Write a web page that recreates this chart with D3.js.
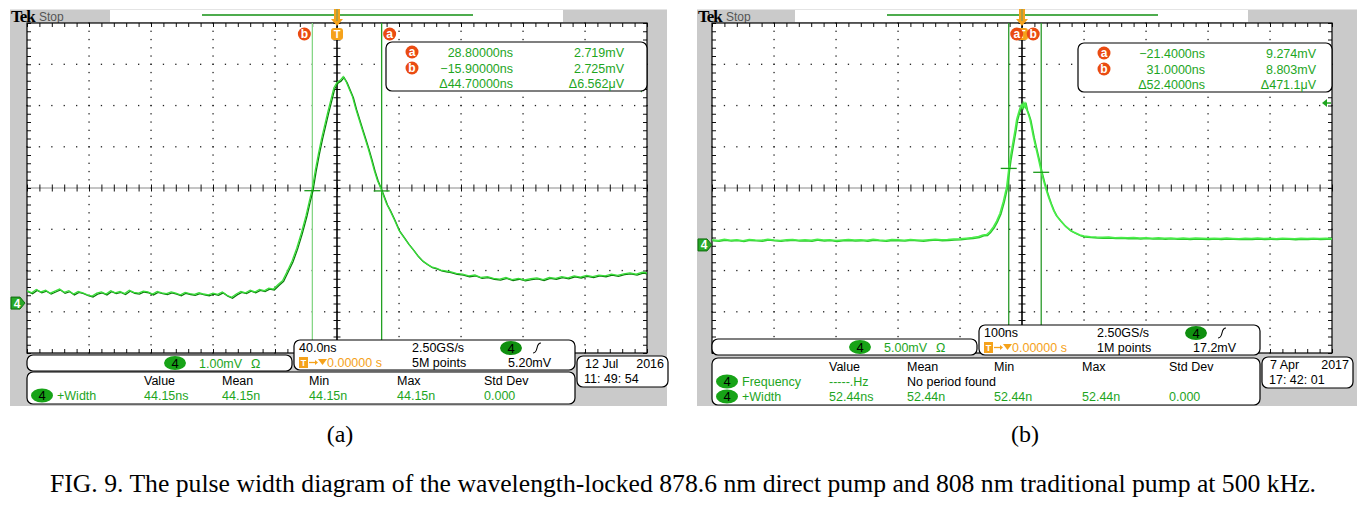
<!DOCTYPE html>
<html><head><meta charset="utf-8">
<script src="https://cdn.jsdelivr.net/npm/d3@7"></script>
<style>
body{margin:0;background:#fff;}
svg{display:block;font-family:"Liberation Sans",Arial,sans-serif;}
</style>
</head><body>
<svg id="c" width="1370" height="511"></svg>
<script>
// ---------------- DATA ----------------
// Panel (a): time in ns, voltage in mV (40 ns/div, 1 mV/div)
const baseA = [[-200,0.30],[-197,0.25],[-194,0.33],[-191,0.27],[-188,0.31],[-185,0.24],[-182,0.29],[-179,0.34],[-176,0.26],[-173,0.30],[-170,0.22],[-167,0.28],[-164,0.25],[-161,0.20],[-158,0.17],[-155,0.24],[-152,0.27],[-149,0.22],[-146,0.30],[-143,0.25],[-140,0.28],[-137,0.23],[-134,0.31],[-131,0.26],[-128,0.24],[-125,0.29],[-122,0.27],[-119,0.22],[-116,0.28],[-113,0.25],[-110,0.23],[-107,0.27],[-104,0.24],[-101,0.20],[-98,0.26],[-95,0.23],[-92,0.21],[-89,0.25],[-86,0.22],[-83,0.20],[-80,0.24],[-77,0.21],[-74,0.27],[-71,0.19],[-68,0.14],[-65,0.22],[-62,0.28],[-59,0.25],[-56,0.31],[-53,0.27],[-50,0.33],[-47,0.30],[-44,0.36],[-41,0.34]];
const pulseA = [[-38,0.45],[-35,0.55],[-32,0.78],[-29,1.02],[-26,1.33],[-23,1.70],[-20,2.12],[-18,2.45],[-16,2.76],[-14,3.22],[-12,3.62],[-10,3.98],[-8,4.30],[-6,4.62],[-4,4.92],[-2,5.22],[0,5.35],[2,5.40],[4,5.49],[6,5.36],[8,5.18],[10,5.00],[12,4.72],[14,4.48],[16,4.24],[18,4.00],[20,3.76],[22,3.50],[24,3.22],[26,2.98],[28,2.80],[30,2.60],[32,2.40],[34,2.26],[37,2.02],[40,1.76],[43,1.60],[46,1.44],[49,1.30],[52,1.15],[55,1.03],[58,0.95],[61,0.88],[64,0.85],[67,0.80],[70,0.78],[73,0.76]];
const tailA = [[77,0.72],[81,0.70],[85,0.66],[89,0.68],[93,0.62],[97,0.64],[101,0.60],[105,0.58],[109,0.62],[113,0.57],[117,0.60],[121,0.56],[125,0.59],[129,0.61],[133,0.57],[137,0.62],[141,0.60],[145,0.64],[149,0.61],[153,0.66],[157,0.63],[161,0.67],[165,0.64],[169,0.68],[173,0.66],[177,0.70],[181,0.67],[185,0.71],[189,0.73],[193,0.70],[197,0.75],[200,0.73]];

// Panel (b): time in ns, voltage in mV (100 ns/div, 5 mV/div)
const baseB = [[-500,0.62],[-490,0.55],[-480,0.68],[-470,0.58],[-460,0.64],[-450,0.52],[-440,0.66],[-430,0.60],[-420,0.57],[-410,0.70],[-400,0.61],[-390,0.54],[-380,0.63],[-370,0.67],[-360,0.58],[-350,0.62],[-340,0.56],[-330,0.69],[-320,0.60],[-310,0.64],[-300,0.53],[-290,0.61],[-280,0.66],[-270,0.59],[-260,0.63],[-250,0.57],[-240,0.68],[-230,0.60],[-220,0.55],[-210,0.65],[-200,0.62],[-190,0.58],[-180,0.67],[-170,0.61],[-160,0.56],[-150,0.64],[-140,0.70],[-130,0.62],[-120,0.66],[-110,0.72],[-100,0.75],[-90,0.82],[-80,0.90],[-70,1.02]];
const pulseB = [[-63,1.21],[-57,1.25],[-52,1.60],[-46,2.22],[-41,2.90],[-35.5,3.84],[-30,5.30],[-24.7,7.07],[-21.4,9.20],[-19.4,10.3],[-17,11.4],[-14,12.7],[-11,14.0],[-8.6,15.2],[-6,15.9],[-3.2,16.6],[-1,17.0],[0.5,16.7],[2.1,17.2],[4,16.8],[5.5,17.1],[7.5,16.4],[10,15.9],[12.9,15.2],[15.5,14.2],[18.3,13.1],[22,11.9],[26.3,10.5],[31,8.9],[34.4,7.9],[38,6.9],[42.5,5.85],[46,5.1],[50.5,4.24],[55,3.6],[61,3.03],[69,2.35],[77.4,1.82],[85,1.50],[93.5,1.21],[100,1.08]];
const tailB = [[110,1.00],[120,0.95],[130,0.92],[140,0.96],[150,0.88],[160,0.91],[170,0.86],[180,0.90],[190,0.84],[200,0.88],[210,0.82],[220,0.86],[230,0.80],[240,0.85],[250,0.79],[260,0.83],[270,0.78],[280,0.84],[290,0.80],[300,0.77],[310,0.82],[320,0.78],[330,0.83],[340,0.79],[350,0.76],[360,0.81],[370,0.78],[380,0.83],[390,0.77],[400,0.80],[410,0.76],[420,0.82],[430,0.79],[440,0.75],[450,0.80],[460,0.78],[470,0.82],[480,0.77],[490,0.80],[500,0.78]];

// cursors: [label, time ns, voltage mV]
const cursorsA = [["a",28.8,2.719],["b",-15.9,2.725]];
const cursorsB = [["a",-21.4,9.274],["b",31.0,8.803]];
const readoutA = [["a","28.80000ns","2.719mV"],["b","\u221215.90000ns","2.725mV"],["","\u039444.70000ns","\u03946.562\u03BCV"]];
const readoutB = [["a","\u221221.4000ns","9.274mV"],["b","31.0000ns","8.803mV"],["","\u039452.4000ns","\u0394471.1\u03BCV"]];

const measHeaders = ["Value","Mean","Min","Max","Std Dev"];
const measA = [["+Width",["44.15ns","44.15n","44.15n","44.15n","0.000"]]];
const measB = [["Frequency",["-----.Hz","No period found","","",""]],["+Width",["52.44ns","52.44n","52.44n","52.44n","0.000"]]];

const scaleTextA = ["1.00mV"], scaleTextB = ["5.00mV"];
const timebaseA = ["40.0ns","2.50GS/s","5M points","5.20mV"];
const timebaseB = ["100ns","2.50GS/s","1M points","17.2mV"];
const dateA = ["12 Jul","2016","11: 49: 54"];
const dateB = ["7 Apr","2017","17: 42: 01"];
const trigA = 5.20, trigB = 17.2;
const subLabels = ["(a)","(b)"];
const caption = "FIG. 9. The pulse width diagram of the wavelength-locked 878.6 nm direct pump and 808 nm traditional pump at 500 kHz.";

// ---------------- DRAW ----------------
const svg = d3.select("#c");
const SERIF = "'Liberation Serif','Times New Roman',serif";
const GREEN_TXT = "#1ea51e", ORANGE = "#f5a21b", RED = "#ea4b12";

const panels = [
  {ox:0, px0:10, px1:667, tDiv:40, vDiv:1, vCenter:2.79, trace:[...baseA,...pulseA,...tailA], cursors:cursorsA, readout:readoutA,
   curColors:{a:"#22a022", b:"#86d686"}, meas:measA, measTop:372, measBot:404, chanY:355, tbY:340, dateY:356,
   scale:scaleTextA[0], tb:timebaseA, date:dateA, trig:trigA, lineDark:"#0b7d0b", lineLight:"#3add3a", lw:1.3},
  {ox:685, px0:697, px1:1357, tDiv:100, vDiv:5, vCenter:6.9, trace:[...baseB,...pulseB,...tailB], cursors:cursorsB, readout:readoutB,
   curColors:{a:"#2a9a2a", b:"#2a9a2a"}, meas:measB, measTop:358, measBot:405, chanY:339, tbY:325, dateY:357,
   scale:scaleTextB[0], tb:timebaseB, date:dateB, trig:trigB, lineDark:"#2cc82c", lineLight:"#4aee4a", lw:1.5}
];

function circleLabel(g, cx, cy, ch){
  g.append("circle").attr("cx",cx).attr("cy",cy).attr("r",6.5).attr("fill",RED);
  g.append("text").attr("x",cx).attr("y",cy+4).attr("text-anchor","middle")
    .attr("font-size",12).attr("font-weight","bold").attr("fill","#fff").text(ch);
}
function pill(g, cx, cy, fill){
  g.append("ellipse").attr("cx",cx).attr("cy",cy).attr("rx",11).attr("ry",7).attr("fill",fill||"#17a317");
  g.append("text").attr("x",cx).attr("y",cy+4.5).attr("text-anchor","middle").attr("font-size",13).attr("fill","#000").text("4");
}
function box(g,x0,y0,x1,y1){
  g.append("rect").attr("x",x0).attr("y",y0).attr("width",x1-x0).attr("height",y1-y0)
    .attr("rx",6).attr("fill","#fff").attr("stroke","#000").attr("stroke-width",1.2);
}

panels.forEach((P,pi)=>{
  const g = svg.append("g");
  const ox = P.ox;
  const gx0 = 27+ox, gx1 = 647+ox, gy0 = 23, gy1 = 353;
  const x = d3.scaleLinear().domain([-5*P.tDiv, 5*P.tDiv]).range([gx0, gx1]);
  const y = d3.scaleLinear().domain([P.vCenter-4*P.vDiv, P.vCenter+4*P.vDiv]).range([gy1, gy0]);

  // background frame
  g.append("rect").attr("x",P.px0).attr("y",9).attr("width",P.px1-P.px0).attr("height",397).attr("fill","#cacaca");
  g.append("rect").attr("x",P.px0).attr("y",9).attr("width",P.px1-P.px0).attr("height",1).attr("fill","#e4e4e4");
  // top strip
  g.append("rect").attr("x",110+ox).attr("y",10).attr("width",453).attr("height",12).attr("fill","#fff");
  g.append("line").attr("x1",202+ox).attr("x2",473+ox).attr("y1",15).attr("y2",15).attr("stroke","#139013").attr("stroke-width",1.5);
  g.append("text").attr("x",P.px0+1).attr("y",22).style("font-family",SERIF).attr("font-weight","bold")
    .attr("font-size",17).attr("letter-spacing",-1).attr("fill","#000").text("Tek");
  g.append("text").attr("x",P.px0+29).attr("y",21).attr("font-size",12).attr("fill","#555").text("Stop");

  // graticule
  g.append("rect").attr("x",gx0).attr("y",gy0).attr("width",gx1-gx0).attr("height",gy1-gy0).attr("fill","#fff");
  const tMajor = d3.range(-5,6).map(k=>k*P.tDiv);
  const tMinor = d3.range(-25,26).map(k=>k*P.tDiv/5);
  const vMajor = d3.range(-4,5).map(k=>P.vCenter+k*P.vDiv);
  const vMinor = d3.range(-20,21).map(k=>P.vCenter+k*P.vDiv/5);
  const dots = [];
  tMajor.slice(1,-1).forEach(t=>{ if(t!==0) vMinor.forEach(v=>dots.push([t,v])); });
  vMajor.slice(1,-1).forEach((v,i)=>{ if(i!==3) tMinor.forEach(t=>dots.push([t,v])); });
  g.append("g").selectAll("rect").data(dots).join("rect")
    .attr("x",d=>x(d[0])-0.6).attr("y",d=>y(d[1])-0.6).attr("width",1.3).attr("height",1.3).attr("fill","#222");

  // center lines and ticks via axes
  g.append("line").attr("x1",gx0).attr("x2",gx1).attr("y1",y(P.vCenter)).attr("y2",y(P.vCenter)).attr("stroke","#8a8a8a").attr("stroke-width",1);
  const ax = (axis, tr)=>{ const a=g.append("g").attr("transform",tr).call(axis); a.select(".domain").remove(); a.selectAll(".tick line").attr("stroke","#111"); };
  ax(d3.axisBottom(x).tickValues(tMinor).tickSize(7).tickFormat(""), `translate(0,${y(P.vCenter)-3.5})`);
  ax(d3.axisRight(y).tickValues(vMinor).tickSize(7).tickFormat(""), `translate(${x(0)-3.5},0)`);
  ax(d3.axisBottom(x).tickValues(tMinor).tickSize(4).tickFormat(""), `translate(0,${gy0})`);
  ax(d3.axisTop(x).tickValues(tMinor).tickSize(4).tickFormat(""), `translate(0,${gy1})`);
  ax(d3.axisRight(y).tickValues(vMinor).tickSize(4).tickFormat(""), `translate(${gx0},0)`);
  ax(d3.axisLeft(y).tickValues(vMinor).tickSize(4).tickFormat(""), `translate(${gx1},0)`);
  g.append("line").attr("x1",x(0)).attr("x2",x(0)).attr("y1",gy0).attr("y2",gy1).attr("stroke","#000").attr("stroke-width",1.6);
  g.append("rect").attr("x",gx0).attr("y",gy0).attr("width",gx1-gx0).attr("height",gy1-gy0).attr("fill","none").attr("stroke","#000").attr("stroke-width",1.2);

  // cursors
  P.cursors.forEach(c=>{
    g.append("line").attr("x1",x(c[1])).attr("x2",x(c[1])).attr("y1",gy0).attr("y2",gy1)
      .attr("stroke",P.curColors[c[0]]).attr("stroke-width",1.3);
  });

  // trace
  const clipId = "clip"+pi;
  svg.append("clipPath").attr("id",clipId).append("rect").attr("x",gx0).attr("y",gy0).attr("width",gx1-gx0).attr("height",gy1-gy0);
  const tg = g.append("g").attr("clip-path",`url(#${clipId})`);
  const line = d3.line().x(d=>x(d[0])).y(d=>y(d[1]));
  tg.append("path").datum(P.trace).attr("fill","none").attr("stroke",P.lineDark).attr("stroke-width",P.lw)
    .attr("transform","translate(0.9,0.9)").attr("d",line);
  tg.append("path").datum(P.trace).attr("fill","none").attr("stroke",P.lineLight).attr("stroke-width",P.lw)
    .attr("d",line);

  // cursor crossing marks
  P.cursors.forEach(c=>{
    g.append("line").attr("x1",x(c[1])-8).attr("x2",x(c[1])+8).attr("y1",y(c[2])).attr("y2",y(c[2]))
      .attr("stroke","#1a9a1a").attr("stroke-width",1.3);
  });

  // trigger level marker (right edge)
  const ty = y(P.trig);
  g.append("path").attr("d",`M${gx1-10},${ty} L${gx1-5},${ty-4} L${gx1-5},${ty+4} Z`).attr("fill","#1ea51e");
  g.append("line").attr("x1",gx1-6).attr("x2",gx1-1).attr("y1",ty).attr("y2",ty).attr("stroke","#1ea51e").attr("stroke-width",1.5);

  // ground marker (left edge)
  const gy = y(0);
  g.append("path").attr("d",`M${P.px0+1},${gy-6} L${P.px0+10},${gy-6} L${P.px0+15},${gy} L${P.px0+10},${gy+6} L${P.px0+1},${gy+6} Z`)
    .attr("fill","#28a828").attr("stroke","#0d6d0d").attr("stroke-width",1);
  g.append("text").attr("x",P.px0+7).attr("y",gy+4.5).attr("text-anchor","middle").attr("font-size",12).attr("font-weight","bold").attr("fill","#fff").text("4");

  // trigger position marker at top
  const tx = x(0);
  g.append("path").attr("d",`M${tx-3},9 L${tx+3},9 L${tx+3},19 L${tx+6},19 L${tx},26 L${tx-6},19 L${tx-3},19 Z`).attr("fill",ORANGE);
  g.append("line").attr("x1",tx).attr("x2",tx).attr("y1",9).attr("y2",21).attr("stroke","#6a9a6a").attr("stroke-width",1);
  g.append("rect").attr("x",tx-6).attr("y",28).attr("width",12).attr("height",12).attr("rx",3).attr("fill",ORANGE);
  g.append("text").attr("x",tx).attr("y",38).attr("text-anchor","middle").attr("font-size",11).attr("font-weight","bold").attr("fill","#fff").text("T");

  // cursor labels at top
  P.cursors.forEach(c=>{
    const cx = c[0]==="a" ? x(c[1])+8 : x(c[1])-8;
    circleLabel(g, cx, 34, c[0]);
  });

  // readout box
  const rb = pi===0 ? {x0:386,y0:42,x1:647,y1:91} : {x0:1078,y0:43,x1:1332,y1:92};
  box(g, rb.x0, rb.y0, rb.x1, rb.y1);
  const rows=[rb.y0+10, rb.y0+26, rb.y0+41];
  P.readout.forEach((r,i)=>{
    if(r[0]) circleLabel(g, rb.x0+26, rows[i], r[0]);
    g.append("text").attr("x",rb.x0+127).attr("y",rows[i]+4.5).attr("text-anchor","end").attr("font-size",12.5).attr("fill",GREEN_TXT).text(r[1]);
    g.append("text").attr("x",rb.x0+238).attr("y",rows[i]+4.5).attr("text-anchor","end").attr("font-size",12.5).attr("fill",GREEN_TXT).text(r[2]);
  });

  // measurement box
  box(g, 27+ox, P.measTop, 575+ox, P.measBot);
  const cols = [144,222,309,397,484].map(v=>v+ox);
  const hy = P.measTop + 13;
  measHeaders.forEach((h,i)=> g.append("text").attr("x",cols[i]).attr("y",hy).attr("font-size",12.5).attr("fill","#000").text(h));
  P.meas.forEach((m,j)=>{
    const ry = hy + 15*(j+1);
    pill(g, 42+ox, ry-4.5);
    g.append("text").attr("x",57+ox).attr("y",ry).attr("font-size",12.5).attr("fill",GREEN_TXT).text(m[0]);
    m[1].forEach((v,i)=>{
      g.append("text").attr("x",cols[i]).attr("y",ry).attr("font-size",12.5)
        .attr("fill", v==="No period found" ? "#000" : GREEN_TXT).text(v);
    });
  });

  // channel scale bar
  box(g, 27+ox, P.chanY, 292+ox, P.chanY+16);
  pill(g, 175+ox, P.chanY+8);
  g.append("text").attr("x",199+ox).attr("y",P.chanY+12.5).attr("font-size",12.5).attr("fill",GREEN_TXT).text(P.scale);
  g.append("text").attr("x",251+ox).attr("y",P.chanY+12.5).attr("font-size",12.5).attr("fill",GREEN_TXT).text("\u03A9");

  // timebase box
  const tb0 = 294+ox;
  box(g, tb0, P.tbY, 575+ox, P.tbY+30);
  const r1 = P.tbY+12, r2 = P.tbY+27;
  g.append("text").attr("x",tb0+5).attr("y",r1).attr("font-size",12.5).attr("fill","#000").text(P.tb[0]);
  g.append("text").attr("x",tb0+118).attr("y",r1).attr("font-size",12.5).attr("fill","#000").text(P.tb[1]);
  pill(g, tb0+217, r1-4, "#0f8f0f");
  g.append("path").attr("d",`M${tb0+239},${r1+1} Q${tb0+242},${r1+1} ${tb0+243},${r1-4} Q${tb0+244},${r1-9} ${tb0+247},${r1-9}`)
    .attr("fill","none").attr("stroke","#000").attr("stroke-width",1.1);
  g.append("rect").attr("x",tb0+5).attr("y",r2-10).attr("width",9).attr("height",11).attr("fill",ORANGE);
  g.append("text").attr("x",tb0+9.5).attr("y",r2-1).attr("text-anchor","middle").attr("font-size",9).attr("font-weight","bold").attr("fill","#fff").text("T");
  g.append("line").attr("x1",tb0+15).attr("x2",tb0+22).attr("y1",r2-4.5).attr("y2",r2-4.5).attr("stroke",ORANGE).attr("stroke-width",1.3);
  g.append("path").attr("d",`M${tb0+21},${r2-7} L${tb0+24},${r2-4.5} L${tb0+21},${r2-2} Z`).attr("fill",ORANGE);
  g.append("path").attr("d",`M${tb0+24},${r2-8} L${tb0+33},${r2-8} L${tb0+28.5},${r2-2} Z`).attr("fill",ORANGE);
  g.append("text").attr("x",tb0+33).attr("y",r2).attr("font-size",12.5).attr("fill",ORANGE).text("0.00000 s");
  g.append("text").attr("x",tb0+118).attr("y",r2).attr("font-size",12.5).attr("fill","#000").text(P.tb[2]);
  g.append("text").attr("x",tb0+214).attr("y",r2).attr("font-size",12.5).attr("fill","#000").text(P.tb[3]);

  // date box
  box(g, 577+ox, P.dateY, 668+ox, P.dateY+31);
  g.append("text").attr("x",585+ox).attr("y",P.dateY+12).attr("font-size",12.5).attr("fill","#000").text(P.date[0]);
  g.append("text").attr("x",664+ox).attr("y",P.dateY+12).attr("text-anchor","end").attr("font-size",12.5).attr("fill","#000").text(P.date[1]);
  g.append("text").attr("x",584+ox).attr("y",P.dateY+27).attr("font-size",12.5).attr("fill","#000").text(P.date[2]);

  // sub label
  svg.append("text").attr("x", pi===0?340:1025).attr("y",442).attr("text-anchor","middle")
    .style("font-family",SERIF).attr("font-size",24).attr("fill","#000").text(subLabels[pi]);
});

svg.append("text").attr("x",50).attr("y",492).style("font-family",SERIF)
  .attr("font-size",26).attr("textLength",1266).attr("lengthAdjust","spacingAndGlyphs").attr("fill","#000").text(caption);
</script>
</body></html>
